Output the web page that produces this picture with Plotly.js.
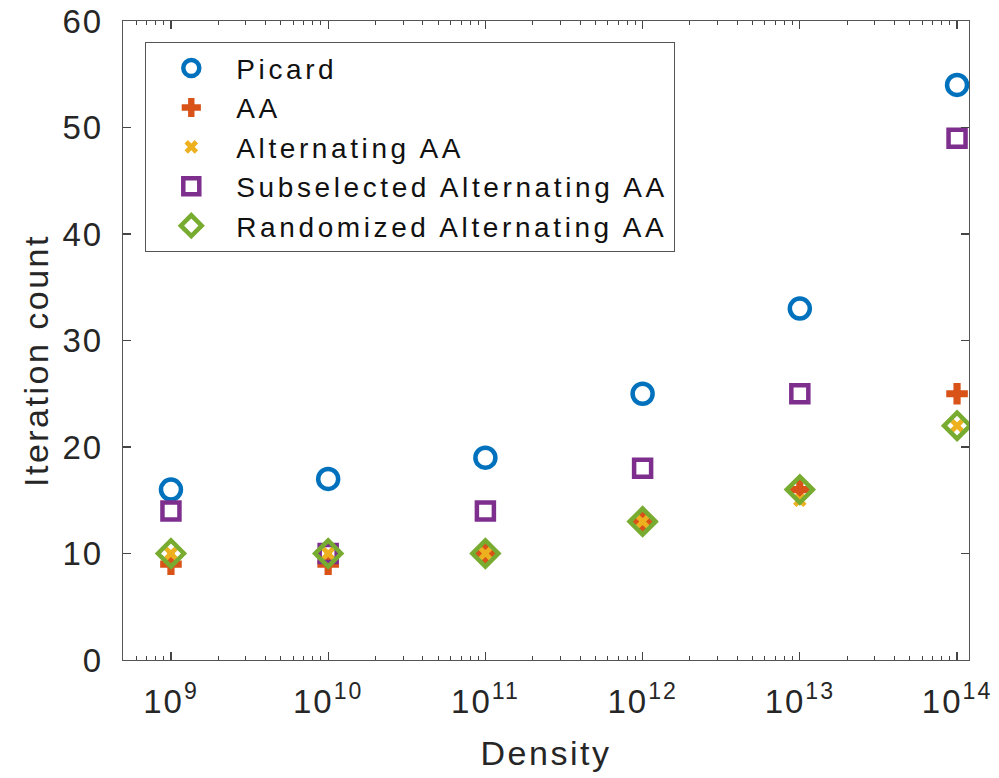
<!DOCTYPE html>
<html>
<head>
<meta charset="utf-8">
<script src="https://cdn.plot.ly/plotly-3.0.1.min.js"></script>
<style>
html,body{margin:0;padding:0;background:#fff;}
#chart{width:999px;height:778px;}
.legendtext{letter-spacing:3.6px;}
.xtick text,.ytick text{letter-spacing:2px;}
.annotation-text{letter-spacing:2.5px;}
.xtitle{letter-spacing:2.5px;}
</style>
</head>
<body>
<div id="chart"></div>
<script>
const density = [1e9, 1e10, 1e11, 1e12, 1e13, 1e14];
const picard = [16, 17, 19, 25, 33, 54];
const aa = [9, 9, 10, 13, 16, 25];
const altAA = [10, 10, 10, 13, 15, 22];
const subAltAA = [14, 10, 14, 18, 25, 49];
const randAltAA = [10, 10, 10, 13, 16, 22];
const xTickVals = [1e9, 1e10, 1e11, 1e12, 1e13, 1e14];
const xTickText = ['10<sup>9</sup>', '10<sup>10</sup>', '10<sup>11</sup>', '10<sup>12</sup>', '10<sup>13</sup>', '10<sup>14</sup>'];
const xTitle = 'Density';
const yTitle = 'Iteration count';

// minor log ticks (2..9 within each decade)
const minorVals = [];
for (let e = 8; e <= 14; e++) {
  for (let m = 2; m <= 9; m++) minorVals.push(m * Math.pow(10, e));
}
const xRange = [8.695, 14.076];

const traces = [
  {name: 'Picard', x: density, y: picard, type: 'scatter', mode: 'markers',
   marker: {symbol: 'circle-open', size: 20, color: '#0072BD', line: {width: 4.5, color: '#0072BD'}}},
  {name: 'AA', x: density, y: aa, type: 'scatter', mode: 'markers',
   marker: {symbol: 'cross', size: 18, color: '#D95319', line: {width: 0}}},
  {name: 'Alternating AA', x: density, y: altAA, type: 'scatter', mode: 'markers',
   marker: {symbol: 'x', size: 12, color: '#EDB120', line: {width: 0}}},
  {name: 'Subselected Alternating AA', x: density, y: subAltAA, type: 'scatter', mode: 'markers',
   marker: {symbol: 'square-open', size: 17, color: '#7E2F8E', line: {width: 4.5, color: '#7E2F8E'}}},
  {name: 'Randomized Alternating AA', x: density, y: randAltAA, type: 'scatter', mode: 'markers',
   marker: {symbol: 'diamond-open', size: 20, color: '#77AC30', line: {width: 4.5, color: '#77AC30'}}}
];

const fontFam = 'Liberation Sans, Arial, Helvetica, sans-serif';
const tickStyle = {ticks: 'inside', ticklen: 8, tickwidth: 1.2, tickcolor: '#444'};
const minorStyle = {tickvals: minorVals, ticks: 'inside', ticklen: 4, tickwidth: 1, tickcolor: '#444', showgrid: false};
const layout = {
  width: 999, height: 778,
  margin: {l: 123, r: 30, t: 21, b: 118},
  paper_bgcolor: '#fff', plot_bgcolor: '#fff',
  font: {family: fontFam, color: '#262626', size: 26},
  showlegend: true,
  legend: {x: 0.026, y: 0.967, xanchor: 'left', yanchor: 'top',
    bordercolor: '#555', borderwidth: 1.3, bgcolor: '#fff',
    font: {size: 28, color: '#111'}, itemwidth: 80},
  xaxis: Object.assign({type: 'log', range: xRange, tickvals: xTickVals, ticktext: xTickText,
    showline: true, linecolor: '#555', linewidth: 1.3, mirror: 'ticks',
    showgrid: false, zeroline: false, ticklabelstandoff: 12,
    tickfont: {size: 33, color: '#262626'},
    minor: minorStyle,
    title: {text: xTitle, font: {size: 34, color: '#262626'}, standoff: 22}}, tickStyle),
  yaxis: Object.assign({range: [0, 60], dtick: 10,
    showline: true, linecolor: '#555', linewidth: 1.3, mirror: 'ticks',
    showgrid: false, zeroline: false, ticklabelstandoff: 12,
    tickfont: {size: 33, color: '#262626'}}, tickStyle),
  annotations: [{text: yTitle, xref: 'paper', yref: 'paper', x: -0.102, y: 0.469,
    xanchor: 'center', yanchor: 'middle', textangle: -90, showarrow: false,
    font: {size: 34, color: '#262626'}}]
};

Plotly.newPlot('chart', traces, layout, {displayModeBar: false, staticPlot: true});
</script>
</body>
</html>
